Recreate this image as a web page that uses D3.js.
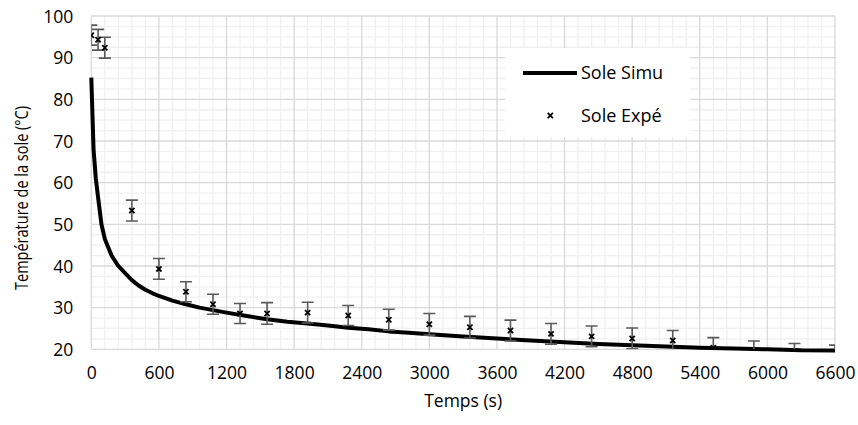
<!DOCTYPE html>
<html>
<head>
<meta charset="utf-8">
<script src="https://cdn.jsdelivr.net/npm/d3@7"></script>
<style>
  html, body { margin: 0; padding: 0; background: #ffffff; }
  svg text { font-family: "Open Sans", "Noto Sans", sans-serif; fill: #000; }
</style>
</head>
<body>
<svg id="chart" width="858" height="425"></svg>
<script>
// ---- data ----
const simTime = [0, 20, 40, 60, 90, 120, 180, 240, 300, 360, 420, 480, 540, 600, 720, 840, 960, 1080, 1200, 1380, 1560, 1740, 1920, 2100, 2280, 2460, 2640, 2820, 3000, 3300, 3600, 3900, 4200, 4500, 4800, 5100, 5400, 5700, 6000, 6300, 6600];
const simTemp = [85.2, 68.0, 61.0, 56.5, 50.0, 46.5, 42.5, 40.0, 38.3, 36.6, 35.3, 34.3, 33.5, 32.8, 31.7, 30.8, 30.0, 29.4, 28.8, 28.0, 27.2, 26.6, 26.2, 25.7, 25.2, 24.8, 24.3, 24.0, 23.6, 23.1, 22.6, 22.1, 21.7, 21.3, 21.0, 20.7, 20.4, 20.2, 20.0, 19.75, 19.7];

const expTime = [0, 60, 120, 360, 600, 840, 1080, 1320, 1560, 1920, 2280, 2640, 3000, 3360, 3720, 4080, 4440, 4800, 5160, 5520, 5880, 6240, 6600];
const expTemp = [95.4, 94.3, 92.4, 53.3, 39.3, 33.8, 30.8, 28.6, 28.6, 28.8, 28.1, 27.1, 26.0, 25.3, 24.5, 23.7, 23.1, 22.6, 22.1, 20.4, 19.5, 18.9, 18.5];
const expErr  = [2.4, 2.5, 2.5, 2.5, 2.5, 2.4, 2.4, 2.4, 2.6, 2.5, 2.4, 2.5, 2.6, 2.6, 2.5, 2.5, 2.5, 2.5, 2.4, 2.4, 2.5, 2.5, 2.5];

const xTicks = [0, 600, 1200, 1800, 2400, 3000, 3600, 4200, 4800, 5400, 6000, 6600];
const yTicks = [20, 30, 40, 50, 60, 70, 80, 90, 100];

const xTitle = "Temps (s)";
const yTitle = "Température de la sole (°C)";
const seriesNames = ["Sole Simu", "Sole Expé"];

// ---- layout ----
const svg = d3.select("#chart");
const L = 91.3, R = 835, T = 16, B = 349.3;
const FS = 17.5;

const x = d3.scaleLinear().domain([0, 6600]).range([L, R]);
const y = d3.scaleLinear().domain([20, 100]).range([B, T]);

svg.append("defs").append("clipPath").attr("id", "plotclip")
  .append("rect").attr("x", L).attr("y", T).attr("width", R - L).attr("height", B - T);

// minor grid
const minorX = d3.range(0, 6600 + 1, 120).filter(v => v % 600 !== 0);
const minorY = d3.range(20, 100.01, 2.5).filter(v => v % 10 !== 0);
const grid = svg.append("g");
grid.selectAll(".mx").data(minorX).join("line")
  .attr("x1", d => x(d)).attr("x2", d => x(d)).attr("y1", T).attr("y2", B)
  .attr("stroke", "#f0f0f0").attr("stroke-width", 1.3);
grid.selectAll(".my").data(minorY).join("line")
  .attr("y1", d => y(d)).attr("y2", d => y(d)).attr("x1", L).attr("x2", R)
  .attr("stroke", "#f0f0f0").attr("stroke-width", 1.3);
// major grid
grid.selectAll(".Mx").data(xTicks).join("line")
  .attr("x1", d => x(d)).attr("x2", d => x(d)).attr("y1", T).attr("y2", B)
  .attr("stroke", "#d9d9d9").attr("stroke-width", 1.3);
grid.selectAll(".My").data(yTicks).join("line")
  .attr("y1", d => y(d)).attr("y2", d => y(d)).attr("x1", L).attr("x2", R)
  .attr("stroke", "#d9d9d9").attr("stroke-width", 1.3);

// axes (labels only)
const xAxis = svg.append("g").attr("transform", `translate(0,${B})`)
  .call(d3.axisBottom(x).tickValues(xTicks).tickFormat(d3.format("d")).tickSize(0).tickPadding(0));
xAxis.select(".domain").remove();
xAxis.selectAll("text").attr("font-size", FS).attr("dy", null).attr("y", 30)
  .style("font-family", '"Open Sans", sans-serif');

const yAxis = svg.append("g").attr("transform", `translate(${L},0)`)
  .call(d3.axisLeft(y).tickValues(yTicks).tickFormat(d3.format("d")).tickSize(0).tickPadding(0));
yAxis.select(".domain").remove();
yAxis.selectAll("text").attr("font-size", FS).attr("x", -18).attr("dy", "0.35em")
  .style("font-family", '"Open Sans", sans-serif');

// titles
svg.append("text").attr("x", (L + R) / 2).attr("y", 407).attr("text-anchor", "middle")
  .attr("font-size", FS).text(xTitle);
svg.append("text").attr("transform", `translate(28,${198}) rotate(-90)`)
  .attr("text-anchor", "middle").attr("font-size", 19)
  .attr("textLength", 184).attr("lengthAdjust", "spacingAndGlyphs").text(yTitle);

// simulated line
const line = d3.line().x((d, i) => x(simTime[i])).y(d => y(d));
svg.append("path").datum(simTemp).attr("d", line)
  .attr("fill", "none").attr("stroke", "#000").attr("stroke-width", 4)
  .attr("stroke-linejoin", "round");

// experimental with error bars
const expData = expTime.map((t, i) => ({ t, v: expTemp[i], e: expErr[i] }));
const eb = svg.append("g").attr("clip-path", "url(#plotclip)");
const cap = 6;
eb.selectAll(".eb").data(expData).join("path")
  .attr("d", d => {
    const xx = x(d.t), y1 = y(d.v + d.e), y2 = y(d.v - d.e);
    return `M${xx},${y1}V${y2}M${xx - cap},${y1}H${xx + cap}M${xx - cap},${y2}H${xx + cap}`;
  })
  .attr("fill", "none").attr("stroke", "#595959").attr("stroke-width", 1.6);

const ms = 2.6;
const crossPath = (cx, cy) => `M${cx - ms},${cy - ms}L${cx + ms},${cy + ms}M${cx - ms},${cy + ms}L${cx + ms},${cy - ms}`;
eb.selectAll(".mk").data(expData.filter(d => d.v >= 20)).join("path")
  .attr("d", d => crossPath(x(d.t), y(d.v)))
  .attr("fill", "none").attr("stroke", "#000").attr("stroke-width", 1.8);

// legend
const lg = svg.append("g");
lg.append("rect").attr("x", 505).attr("y", 48).attr("width", 185).attr("height", 89).attr("fill", "#fff");
lg.append("line").attr("x1", 523).attr("x2", 577).attr("y1", 73).attr("y2", 73)
  .attr("stroke", "#000").attr("stroke-width", 4);
lg.append("text").attr("x", 581).attr("y", 73).attr("dy", "0.35em").attr("font-size", 18).text(seriesNames[0]);
lg.append("path").attr("d", crossPath(550.3, 115.5))
  .attr("fill", "none").attr("stroke", "#000").attr("stroke-width", 1.8);
lg.append("text").attr("x", 581).attr("y", 115.5).attr("dy", "0.35em").attr("font-size", 18).text(seriesNames[1]);
</script>
</body>
</html>
